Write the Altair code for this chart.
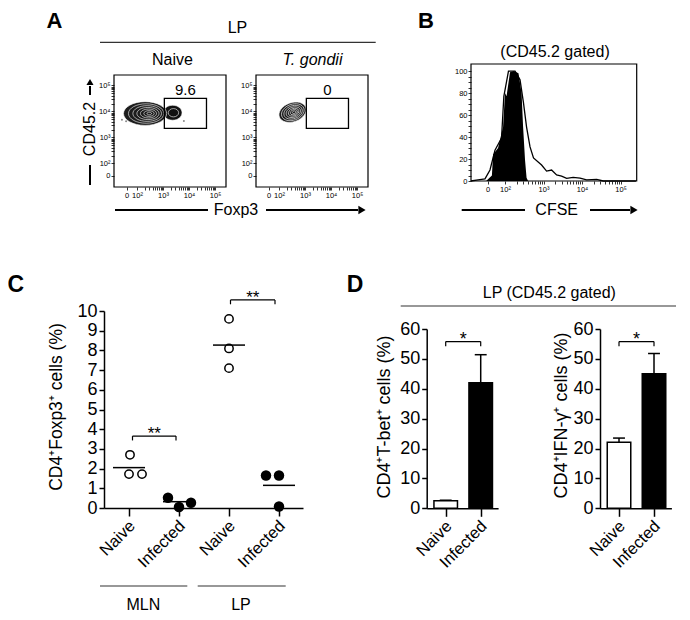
import json
import math
import altair as alt
import pandas as pd

FONT = "Liberation Sans"
W, H = 674, 604

# ---------------- Panel A: flow contour plots (axis unit = decade, 10^k -> k) ----------------
flowA_dom_x = [1.115, 5.42]
flowA_dom_y = [1.096, 5.40]
flowA_tick_x = [1.6, 2, 3, 4, 5]
flowA_tick_y = [1.52, 2, 3, 4, 5]
flow_tick_text = ["0", "10²", "10³", "10⁴", "10⁵"]
gate_x = [3.05, 4.67]
gate_y = [3.35, 4.50]
gate_pct = ["9.6", "0"]

naive_main_ring_x = [2.31, 2.35, 2.39, 2.42, 2.44, 2.46, 2.47]
naive_main_ring_w = [1.66, 1.36, 1.10, 0.85, 0.62, 0.40, 0.18]
naive_main_y = 3.92
naive_pos_ring_x = [3.37, 3.40]
naive_pos_ring_w = [0.72, 0.40]
naive_pos_y = 3.95
tg_ring_x = [2.52, 2.53, 2.54, 2.55, 2.56, 2.57, 2.58]
tg_ring_w = [1.08, 0.90, 0.73, 0.57, 0.42, 0.28, 0.14]
tg_y = 3.97
naive_event_x = [1.42, 1.58, 3.80]
naive_event_y = [3.68, 3.62, 3.63]

# ---------------- Panel B: CFSE histogram ----------------
cfse_dom_x = [1.117, 5.42]
cfse_dom_y = [0, 106.4]
cfse_tick_x = [1.55, 2, 3, 4, 5]
cfse_open_x = [1.117, 1.30, 1.48, 1.61, 1.74, 1.91, 1.97, 2.09, 2.26, 2.39, 2.48, 2.56, 2.65,
               2.74, 2.95, 3.08, 3.21, 3.34, 3.47, 3.60, 3.77, 3.95, 4.12, 4.38, 4.55, 5.40]
cfse_open_y = [0, 1, 2, 10, 28, 39, 77, 100, 100, 92, 71, 49, 31,
               21, 14.5, 9, 10, 5.5, 4.5, 2.4, 3.3, 2.7, 1, 1.5, 0, 0]
cfse_fill_x = [1.51, 1.66, 1.69, 1.82, 1.95, 2.00, 2.04, 2.13, 2.23, 2.35, 2.43, 2.47, 2.52, 2.56, 2.60]
cfse_fill_y = [0, 5, 24, 30, 49, 80, 77, 99, 100, 98, 80, 49, 19, 3, 0]

# ---------------- Panel C: Foxp3+ dot plot ----------------
c_cats = ["Naive", "Infected", "Naive", "Infected"]
c_group = [0, 0, 0, 1, 1, 1, 2, 2, 2, 3, 3, 3]
c_jitter = [0.02, 0.0, 0.26, -0.22, 0.0, 0.24, 0.0, 0.0, 0.0, -0.26, 0.0, 0.0]
c_value = [2.70, 1.72, 1.72, 0.52, 0.05, 0.27, 9.60, 8.10, 7.10, 1.65, 1.65, 0.08]
c_mean = [2.05, 0.32, 8.27, 1.15]
c_sig_x1 = [0.07, 2.03]
c_sig_x2 = [0.94, 2.92]
c_sig_y = [3.65, 10.56]
c_sig_text = ["**", "**"]

# ---------------- Panel D: bar charts ----------------
d_cats = ["Naive", "Infected"]
tbet_mean = [2.5, 42.0]
tbet_sem = [0.2, 9.4]
ifng_mean = [22.1, 45.0]
ifng_sem = [1.4, 6.8]
d_sig_y = 55.8


def label_expr(positions, texts):
    p = json.dumps(positions)
    t = json.dumps(texts, ensure_ascii=False)
    return f"indexof({p}, datum.value) >= 0 ? {t}[indexof({p}, datum.value)] : ''"


MINOR_DECADES = [round(d + math.log10(k), 4) for d in (2, 3, 4) for k in range(2, 10)]


def flow_axis(orient, offset, major):
    return alt.Axis(orient=orient, offset=offset, values=major + MINOR_DECADES,
                    labelExpr=label_expr(major, flow_tick_text), domain=False, grid=False,
                    tickSize=3, tickWidth=0.8, tickColor="black",
                    labelFont=FONT, labelFontSize=7.5, labelColor="black", labelPadding=1,
                    labelOverlap=False, labelFlush=False, title=None)


def ellipse(aspect):
    return f"M-1,0A1,{aspect},0,1,1,1,0A1,{aspect},0,1,1,-1,0Z"


def flow_panel(xr, yr, blobs, label, events=None):
    sx = alt.Scale(domain=flowA_dom_x, range=xr, nice=False, zero=False)
    sy = alt.Scale(domain=flowA_dom_y, range=yr, nice=False, zero=False)
    ax = flow_axis("bottom", yr[0] - H, flowA_tick_x)
    ay = flow_axis("left", -xr[0], flowA_tick_y)
    ppd = (xr[1] - xr[0]) / (flowA_dom_x[1] - flowA_dom_x[0])
    ssize = alt.Scale(type="pow", exponent=2, domain=[0, 1], range=[0, ppd ** 2])
    frame_df = pd.DataFrame({"x0": [flowA_dom_x[0]], "x1": [flowA_dom_x[1]],
                             "y0": [flowA_dom_y[0]], "y1": [flowA_dom_y[1]]})
    frame = alt.Chart(frame_df).mark_rect(fillOpacity=0, stroke="black", strokeWidth=1.2).encode(
        x=alt.X("x0:Q", scale=sx, axis=ax), x2="x1:Q",
        y=alt.Y("y0:Q", scale=sy, axis=ay), y2="y1:Q")
    layers = [frame]
    if events is not None:
        ev = pd.DataFrame({"x": events[0], "y": events[1]})
        layers.append(alt.Chart(ev).mark_circle(size=4, color="#888", opacity=1).encode(
            x=alt.X("x:Q", scale=sx, axis=ax), y=alt.Y("y:Q", scale=sy, axis=ay)))
    for rx, ry, rw, aspect, angle, fill in blobs:
        df = pd.DataFrame({"x": rx, "y": [ry] * len(rx), "w": rw})
        layers.append(alt.Chart(df).mark_point(shape=ellipse(aspect), filled=True, fill=fill,
                                               stroke="white", strokeWidth=0.6, opacity=1,
                                               angle=angle).encode(
            x=alt.X("x:Q", scale=sx, axis=ax), y=alt.Y("y:Q", scale=sy, axis=ay),
            size=alt.Size("w:Q", scale=ssize, legend=None)))
    gdf = pd.DataFrame({"x0": [gate_x[0]], "x1": [gate_x[1]], "y0": [gate_y[0]], "y1": [gate_y[1]],
                        "t": [label]})
    layers.append(alt.Chart(gdf).mark_rect(fillOpacity=0, stroke="black", strokeWidth=1.3).encode(
        x=alt.X("x0:Q", scale=sx, axis=ax), x2="x1:Q",
        y=alt.Y("y0:Q", scale=sy, axis=ay), y2="y1:Q"))
    layers.append(alt.Chart(gdf).transform_calculate(xm="(datum.x0 + datum.x1) / 2").mark_text(
        font=FONT, fontSize=15, color="black", baseline="alphabetic", align="center", dy=-3).encode(
        x=alt.X("xm:Q", scale=sx, axis=ax), y=alt.Y("y1:Q", scale=sy, axis=ay), text="t:N"))
    return alt.layer(*layers)


panel_a1 = flow_panel([106, 218], [179, 67],
                      [(naive_pos_ring_x, naive_pos_y, naive_pos_ring_w, 0.8, 0, "#111"),
                       (naive_main_ring_x, naive_main_y, naive_main_ring_w, 0.55, 0, "#1c1c1c")],
                      gate_pct[0], (naive_event_x, naive_event_y))
panel_a2 = flow_panel([248, 360], [179, 67],
                      [(tg_ring_x, tg_y, tg_ring_w, 0.68, 340, "#1c1c1c")],
                      gate_pct[1])

# ---------------- Panel B ----------------
sxb = alt.Scale(domain=cfse_dom_x, range=[463, 628.7], nice=False, zero=False)
syb = alt.Scale(domain=cfse_dom_y, range=[173, 56], nice=False, zero=False)
b_xaxis = alt.Axis(orient="bottom", offset=173 - H, values=cfse_tick_x + MINOR_DECADES,
                   labelExpr=label_expr(cfse_tick_x, flow_tick_text), domain=False, grid=False,
                   tickSize=3, tickWidth=0.8, tickColor="black", labelFont=FONT, labelFontSize=7.5,
                   labelColor="black", labelPadding=1, labelOverlap=False, labelFlush=False, title=None)
b_yaxis = alt.Axis(orient="left", offset=-463, values=list(range(0, 101, 5)),
                   labelExpr="datum.value % 20 == 0 ? datum.value : ''", domain=False, grid=False,
                   tickSize=3, tickWidth=0.8, tickColor="black", labelFont=FONT, labelFontSize=7.5,
                   labelColor="black", labelPadding=1, labelOverlap=False, labelFlush=False, title=None)
b_frame = alt.Chart(pd.DataFrame({"x0": [cfse_dom_x[0]], "x1": [cfse_dom_x[1]],
                                  "y0": [cfse_dom_y[0]], "y1": [cfse_dom_y[1]]})).mark_rect(
    fillOpacity=0, stroke="black", strokeWidth=1.2).encode(
    x=alt.X("x0:Q", scale=sxb, axis=b_xaxis), x2="x1:Q",
    y=alt.Y("y0:Q", scale=syb, axis=b_yaxis), y2="y1:Q")
b_fill = alt.Chart(pd.DataFrame({"x": cfse_fill_x, "y": cfse_fill_y})).mark_area(
    color="black", opacity=1, interpolate="linear").encode(
    x=alt.X("x:Q", scale=sxb, axis=b_xaxis), y=alt.Y("y:Q", scale=syb, axis=b_yaxis))
b_line = alt.Chart(pd.DataFrame({"x": cfse_open_x, "y": cfse_open_y})).mark_line(
    color="black", strokeWidth=1.3).encode(
    x=alt.X("x:Q", scale=sxb, axis=b_xaxis), y=alt.Y("y:Q", scale=syb, axis=b_yaxis))
panel_b = alt.layer(b_frame, b_fill, b_line)


# ---------------- shared axis helpers for C / D ----------------
def cat_axis(offset, labels):
    return alt.Axis(orient="bottom", offset=offset, values=list(range(len(labels))),
                    labelExpr=f"{json.dumps(labels)}[datum.value]", domain=True,
                    domainColor="black", domainWidth=1.5, ticks=True, tickSize=8, tickWidth=1.5,
                    tickColor="black", grid=False, labelFont=FONT, labelFontSize=16.5,
                    labelColor="black", labelAngle=315, labelAlign="right", labelBaseline="middle",
                    labelPadding=7, labelOffset=3, labelOverlap=False, labelFlush=False, title=None)


def val_axis(offset, values, title, tx, ty, tsize):
    return alt.Axis(orient="left", offset=offset, values=values, format="d", domain=True,
                    domainColor="black", domainWidth=1.5, ticks=True, tickSize=5, tickWidth=1.5,
                    tickColor="black", grid=False, labelFont=FONT, labelFontSize=18,
                    labelColor="black", labelPadding=2, labelOverlap=False, labelFlush=False,
                    title=title, titleFont=FONT, titleFontSize=tsize, titleFontWeight="normal",
                    titleColor="black", titleX=tx, titleY=ty, titleAngle=270,
                    titleAlign="center", titleBaseline="middle")


def brackets(df, sx, sy, ax, ay, drop, size):
    base = alt.Chart(df).transform_calculate(yb=f"datum.y - {drop}", xm="(datum.x1 + datum.x2) / 2")
    h = base.mark_rule(color="black", strokeWidth=1.2).encode(
        x=alt.X("x1:Q", scale=sx, axis=ax), x2="x2:Q", y=alt.Y("y:Q", scale=sy, axis=ay))
    l = base.mark_rule(color="black", strokeWidth=1.2).encode(
        x=alt.X("x1:Q", scale=sx, axis=ax), y=alt.Y("y:Q", scale=sy, axis=ay), y2="yb:Q")
    r = base.mark_rule(color="black", strokeWidth=1.2).encode(
        x=alt.X("x2:Q", scale=sx, axis=ax), y=alt.Y("y:Q", scale=sy, axis=ay), y2="yb:Q")
    t = base.mark_text(font=FONT, fontSize=size, color="black", align="center",
                       baseline="alphabetic", dy=3).encode(
        x=alt.X("xm:Q", scale=sx, axis=ax), y=alt.Y("y:Q", scale=sy, axis=ay), text="s:N")
    return [h, l, r, t]


# ---------------- Panel C ----------------
sxc = alt.Scale(domain=[-0.5, 3.48], range=[96, 295], nice=False, zero=False)
syc = alt.Scale(domain=[0, 10], range=[500, 303], nice=False, zero=False)
axc = cat_axis(500 - H, c_cats)
ayc = val_axis(-96, list(range(11)), "CD4⁺Foxp3⁺ cells (%)", -47.3, 398.5, 17.5)
c_df = pd.DataFrame({"g": c_group, "j": c_jitter, "v": c_value})
c_base = alt.Chart(c_df).transform_calculate(xp="datum.g + datum.j")
c_open = c_base.transform_filter("datum.g % 2 == 0").mark_point(
    shape="circle", filled=False, stroke="black", strokeWidth=1.5, size=70, opacity=1).encode(
    x=alt.X("xp:Q", scale=sxc, axis=axc), y=alt.Y("v:Q", scale=syc, axis=ayc))
c_filled = c_base.transform_filter("datum.g % 2 == 1").mark_circle(
    color="black", size=110, opacity=1).encode(
    x=alt.X("xp:Q", scale=sxc, axis=axc), y=alt.Y("v:Q", scale=syc, axis=ayc))
c_means = alt.Chart(pd.DataFrame({"g": [0, 1, 2, 3], "m": c_mean})).transform_calculate(
    lo="datum.g - 0.32", hi="datum.g + 0.32").mark_rule(color="black", strokeWidth=1.5).encode(
    x=alt.X("lo:Q", scale=sxc, axis=axc), x2="hi:Q", y=alt.Y("m:Q", scale=syc, axis=ayc))
c_sig = pd.DataFrame({"x1": c_sig_x1, "x2": c_sig_x2, "y": c_sig_y, "s": c_sig_text})
panel_c = alt.layer(c_open, c_filled, c_means, *brackets(c_sig, sxc, syc, axc, ayc, 0.22, 17))


# ---------------- Panel D ----------------
def d_panel(xr, means, sems, title, tx, ty):
    sx = alt.Scale(domain=[-0.543, 1.497], range=xr, nice=False, zero=False)
    sy = alt.Scale(domain=[0, 60], range=[500.3, 321], nice=False, zero=False)
    ax = cat_axis(500.3 - H, d_cats)
    ay = val_axis(-xr[0], list(range(0, 61, 10)), title, tx, ty, 18)
    df = pd.DataFrame({"i": [0, 1], "cat": d_cats, "m": means, "e": sems})
    base = alt.Chart(df).transform_calculate(
        lo="datum.i - 0.336", hi="datum.i + 0.336", top="datum.m + datum.e",
        cl="datum.i - 0.17", cr="datum.i + 0.17", zero="0")
    bars = base.mark_rect(stroke="black", strokeWidth=1.5).encode(
        x=alt.X("lo:Q", scale=sx, axis=ax), x2="hi:Q",
        y=alt.Y("zero:Q", scale=sy, axis=ay), y2="m:Q",
        fill=alt.Fill("cat:N", scale=alt.Scale(domain=d_cats, range=["white", "black"]), legend=None))
    err = base.mark_rule(color="black", strokeWidth=1.5).encode(
        x=alt.X("i:Q", scale=sx, axis=ax), y=alt.Y("m:Q", scale=sy, axis=ay), y2="top:Q")
    cap = base.mark_rule(color="black", strokeWidth=1.5).encode(
        x=alt.X("cl:Q", scale=sx, axis=ax), x2="cr:Q", y=alt.Y("top:Q", scale=sy, axis=ay))
    sig = pd.DataFrame({"x1": [0], "x2": [1], "y": [d_sig_y], "s": ["*"]})
    return alt.layer(bars, err, cap, *brackets(sig, sx, sy, ax, ay, 1.6, 18))


panel_d1 = d_panel([418.7, 490.1], tbet_mean, tbet_sem, "CD4⁺T-bet⁺ cells (%)", -42.5, 408.5)
panel_d2 = d_panel([592, 663.4], ifng_mean, ifng_sem, "CD4⁺IFN-γ⁺ cells (%)", -39, 407)

# ---------------- annotations ----------------
one = pd.DataFrame({"k": [0]})


def txt(s, x, y, size=16, baseline="middle", **kw):
    return alt.Chart(one).mark_text(text=s, font=FONT, fontSize=size, color="black",
                                    align="center", baseline=baseline, **kw).encode(
        x=alt.value(x), y=alt.value(y))


def hline(x1, x2, y, w=1.2, color="#333"):
    return alt.Chart(one).mark_rule(color=color, strokeWidth=w).encode(
        x=alt.value(x1), x2=alt.value(x2), y=alt.value(y))


def vline(x, y1, y2, w=2, color="black"):
    return alt.Chart(one).mark_rule(color=color, strokeWidth=w).encode(
        x=alt.value(x), y=alt.value(y1), y2=alt.value(y2))


def head(shape, x, y, size=60):
    return alt.Chart(one).mark_point(shape=shape, filled=True, color="black", size=size,
                                     opacity=1).encode(x=alt.value(x), y=alt.value(y))


annots = [
    txt("A", 46.5, 3, 22, baseline="top", fontWeight="bold"),
    txt("B", 418, 3, 22, baseline="top", fontWeight="bold"),
    txt("C", 7.7, 283.5, 23, baseline="alphabetic", fontWeight="bold"),
    txt("D", 347, 283.5, 23, baseline="alphabetic", fontWeight="bold"),
    txt("LP", 229.5, 19.7),
    hline(92, 367.7, 34.3),
    txt("Naive", 164.5, 52.3),
    txt("T. gondii", 304.5, 52.3, fontStyle="italic"),
    txt("(CD45.2 gated)", 547, 43.7),
    txt("CD45.2", 82, 121, angle=270),
    vline(82, 78, 87),
    head("triangle-up", 82, 74, 50),
    vline(82, 157, 177),
    txt("Foxp3", 228, 202),
    hline(107, 200, 202, 2, "black"),
    hline(258, 350, 202, 2, "black"),
    head("triangle-right", 354, 202, 70),
    txt("CFSE", 548.7, 202),
    hline(453.7, 517, 202, 2, "black"),
    hline(582, 622, 202, 2, "black"),
    head("triangle-right", 626, 202, 70),
    hline(92, 179.3, 578),
    hline(189.7, 277.7, 578),
    txt("MLN", 135.3, 597),
    txt("LP", 233, 597),
    txt("LP (CD45.2 gated)", 541.3, 285.3),
    hline(392.7, 668, 298),
]

chart = alt.layer(panel_a1, panel_a2, panel_b, panel_c, panel_d1, panel_d2, *annots).resolve_scale(
    x="independent", y="independent", size="independent").resolve_axis(
    x="independent", y="independent").properties(
    width=W, height=H, autosize=alt.AutoSizeParams(type="none"), padding=0,
    background="white").configure_view(stroke=None)

chart.save("out.html", embed_options={"renderer": "svg", "actions": False})
